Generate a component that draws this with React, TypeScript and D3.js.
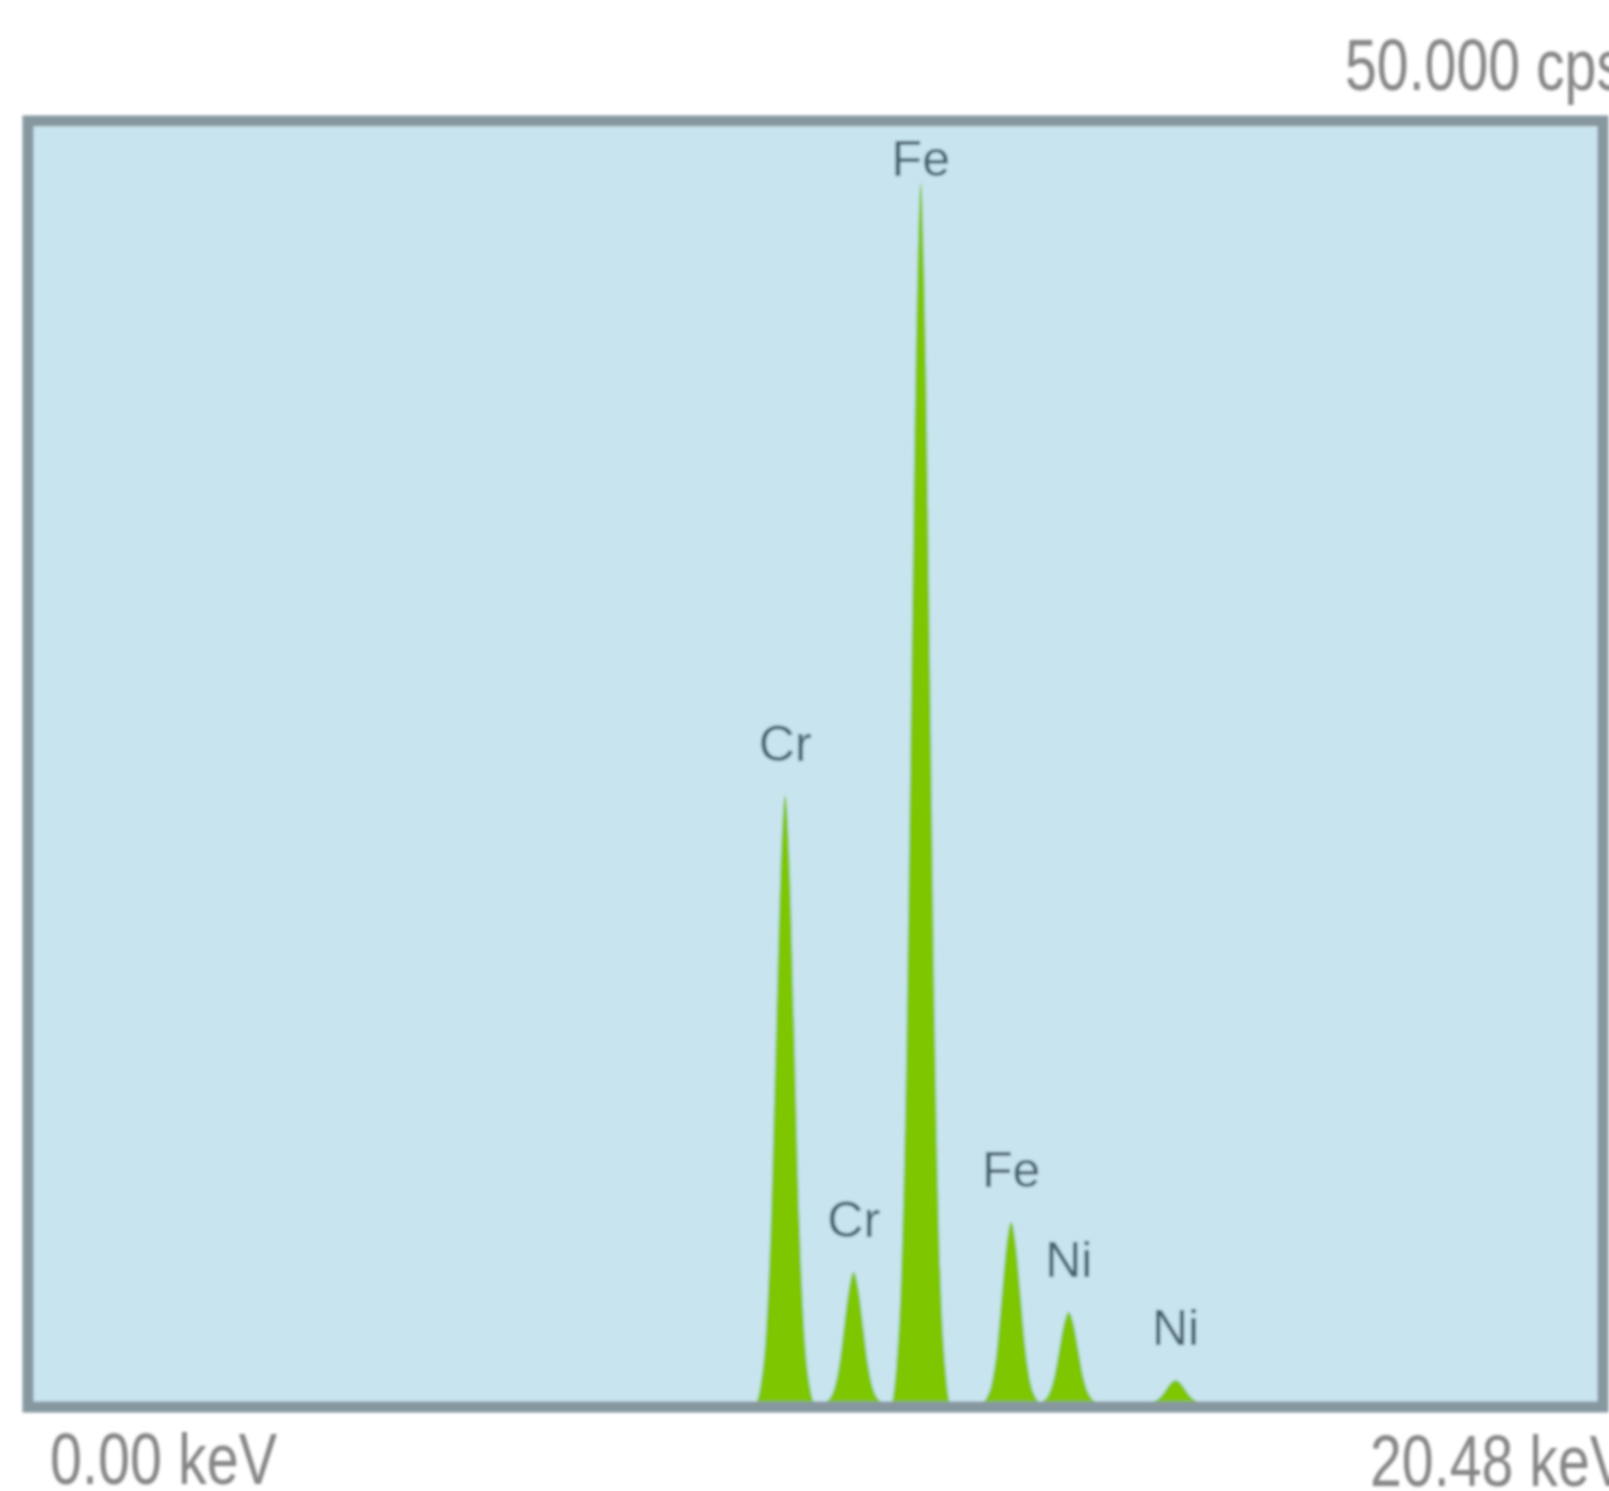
import * as d3 from "d3";
import React, { useRef, useEffect } from "react";

const width = 1609;
const height = 1491;

// plot frame (inner area, px)
const frame = { left: 33, top: 127, right: 1598, bottom: 1403 };

// energy axis (keV) and count axis (cps)
const keVDomain = [0, 11.5];
const cpsMax = 50000;

const peakElements = ["Cr", "Cr", "Fe", "Fe", "Ni", "Ni"];
const peakEnergies = [5.41, 5.91, 6.4, 7.06, 7.48, 8.26];
const peakCounts = [23800, 5130, 47800, 7090, 3570, 900];

// peak profiles: [keV, cps]
const crKa = [
  [5.2, 0], [5.23, 710], [5.264, 2380], [5.305, 7140], [5.341, 14280], [5.373, 20470], [5.41, 23800],
  [5.447, 20470], [5.479, 14280], [5.515, 7140], [5.556, 2380], [5.59, 710], [5.62, 0],
];
const crKb = [
  [5.7, 0], [5.73, 150], [5.764, 510], [5.805, 1540], [5.841, 3080], [5.873, 4410], [5.91, 5130],
  [5.947, 4410], [5.979, 3080], [6.015, 1540], [6.056, 510], [6.09, 150], [6.12, 0],
];
const feKa = [
  [6.19, 0], [6.22, 1430], [6.254, 4780], [6.295, 14340], [6.331, 28680], [6.363, 41110], [6.4, 47800],
  [6.437, 41110], [6.469, 28680], [6.505, 14340], [6.546, 4780], [6.58, 1430], [6.61, 0],
];
const feKb = [
  [6.85, 0], [6.88, 210], [6.914, 710], [6.955, 2130], [6.991, 4250], [7.023, 6100], [7.06, 7090],
  [7.097, 6100], [7.129, 4250], [7.165, 2130], [7.206, 710], [7.24, 210], [7.27, 0],
];
const niKa = [
  [7.27, 0], [7.3, 110], [7.334, 360], [7.375, 1070], [7.411, 2140], [7.443, 3070], [7.48, 3570],
  [7.517, 3070], [7.549, 2140], [7.585, 1070], [7.626, 360], [7.66, 110], [7.69, 0],
];
const niKb = [
  [8.05, 0], [8.08, 30], [8.114, 90], [8.155, 270], [8.191, 540], [8.223, 770], [8.26, 900],
  [8.297, 770], [8.329, 540], [8.365, 270], [8.406, 90], [8.44, 30], [8.47, 0],
];
const peakProfiles = [crKa, crKb, feKa, feKb, niKa, niKb];

const scaleLabels = { top: "50.000 cps", left: "0.00 keV", right: "20.48 keV" };

const Spectrum = () => {
  const svgRef = useRef(null);

  useEffect(() => {
    const svg = d3.select(svgRef.current);
    svg.selectAll("*").remove();

    const xScale = d3.scaleLinear().domain(keVDomain).range([44, 44 + 11.5 * 137]);
    const yScale = d3.scaleLinear().domain([0, cpsMax]).range([frame.bottom, frame.top]);

    const defs = svg.append("defs");
    defs
      .append("clipPath")
      .attr("id", "plot-clip")
      .append("rect")
      .attr("x", frame.left)
      .attr("y", frame.top)
      .attr("width", frame.right - frame.left)
      .attr("height", frame.bottom - frame.top);
    defs
      .append("filter")
      .attr("id", "soft")
      .append("feGaussianBlur")
      .attr("stdDeviation", 1.6);

    const main = svg.append("g").attr("filter", "url(#soft)");

    // background
    main
      .append("rect")
      .attr("x", frame.left)
      .attr("y", frame.top)
      .attr("width", frame.right - frame.left)
      .attr("height", frame.bottom - frame.top)
      .attr("fill", "#c7e4ef");

    const area = d3
      .area()
      .x((d) => xScale(d[0]))
      .y0(yScale(0))
      .y1((d) => yScale(d[1]))
      .curve(d3.curveMonotoneX);

    main
      .append("g")
      .attr("clip-path", "url(#plot-clip)")
      .selectAll("path")
      .data(peakProfiles)
      .join("path")
      .attr("d", area)
      .attr("fill", "#7ec600");

    // frame border
    main
      .append("rect")
      .attr("x", 28)
      .attr("y", 121)
      .attr("width", 1575)
      .attr("height", 1286)
      .attr("fill", "none")
      .attr("stroke", "#8797a0")
      .attr("stroke-width", 11);

    // peak labels
    main
      .append("g")
      .selectAll("text")
      .data(peakElements)
      .join("text")
      .attr("x", (_, i) => xScale(peakEnergies[i]))
      .attr("y", (_, i) => Math.max(yScale(peakCounts[i]) - 35, 176))
      .attr("text-anchor", "middle")
      .attr("font-family", "'Liberation Sans', Arial, sans-serif")
      .attr("font-size", 50)
      .attr("fill", "#45616c")
      .text((d) => d);

    // scale labels (condensed, like the original readout)
    const labelFont = "'Liberation Sans', sans-serif";
    const scaleText = [
      { text: scaleLabels.top, x: 1345, y: 90, len: 280 },
      { text: scaleLabels.left, x: 50, y: 1484, len: 227 },
      { text: scaleLabels.right, x: 1370, y: 1486, len: 258 },
    ];
    main
      .append("g")
      .selectAll("text")
      .data(scaleText)
      .join("text")
      .attr("x", (d) => d.x)
      .attr("y", (d) => d.y)
      .attr("textLength", (d) => d.len)
      .attr("lengthAdjust", "spacingAndGlyphs")
      .attr("font-family", labelFont)
      .attr("font-size", 72)
      .attr("fill", "#858585")
      .text((d) => d.text);
  }, []);

  return (
    <svg
      ref={svgRef}
      width={width}
      height={height}
      style={{ position: "absolute", left: 0, top: 0, background: "#ffffff" }}
    ></svg>
  );
};

export default function App() {
  return <Spectrum />;
}
